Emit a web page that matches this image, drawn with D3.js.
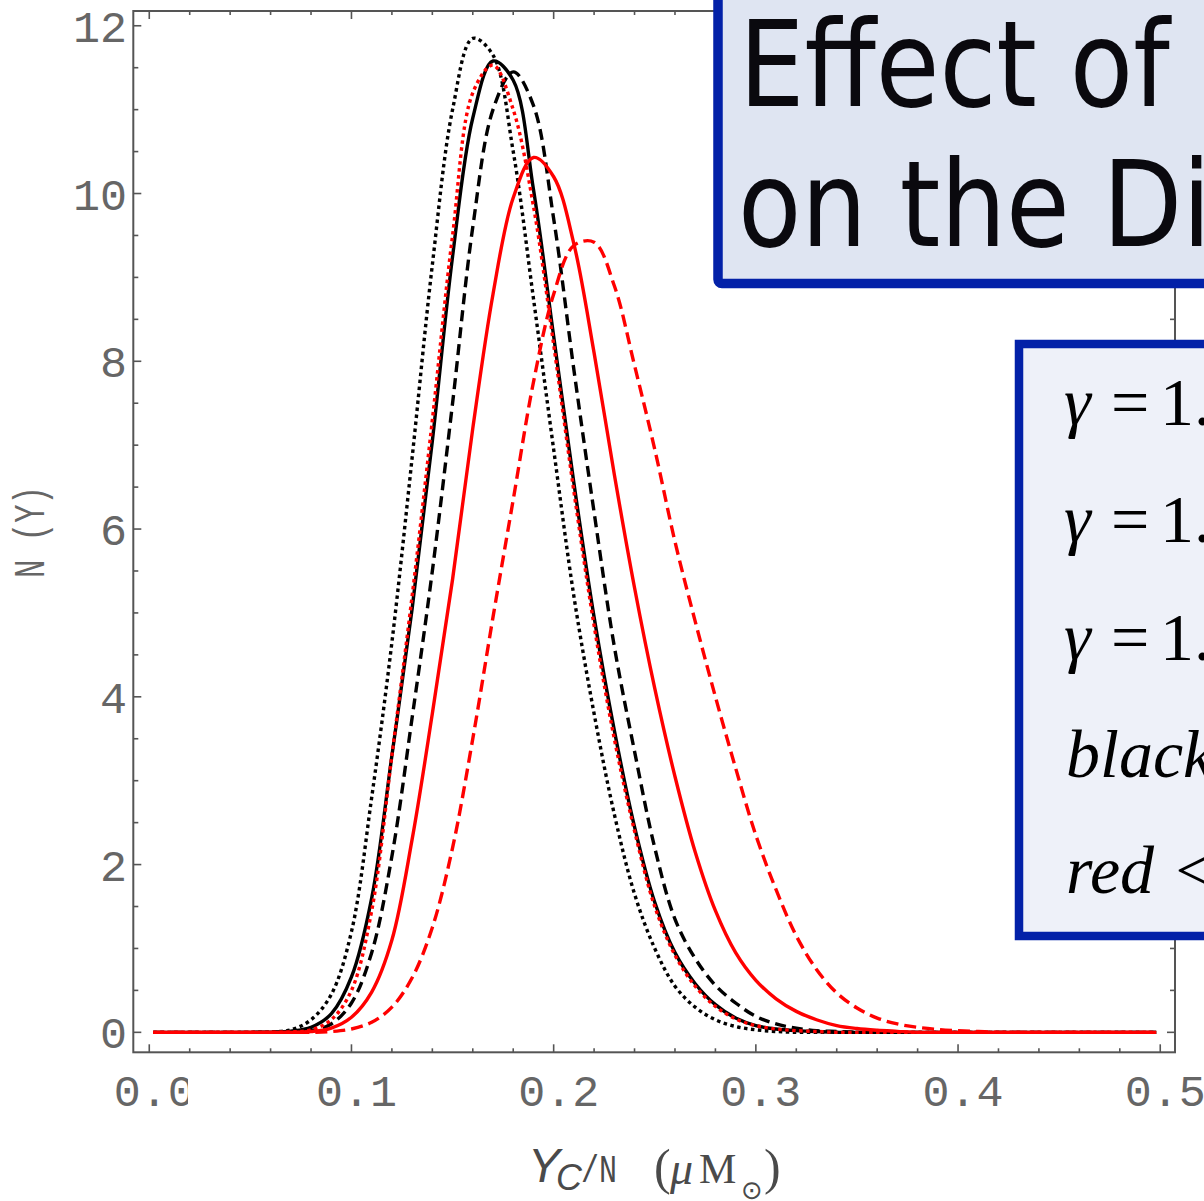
<!DOCTYPE html>
<html><head><meta charset="utf-8">
<script src="https://cdn.jsdelivr.net/npm/d3@7"></script>
<style>html,body{margin:0;padding:0;background:#fff;overflow:hidden}</style>
</head><body>
<script>
// ---------- data ----------
const xValues = [0.002,
  0.01,0.02,0.03,0.04,0.05,0.06,0.07,0.08,0.09,0.10,
  0.11,0.12,0.13,0.14,0.15,0.16,0.17,0.18,0.19,0.20,
  0.21,0.22,0.23,0.24,0.25,0.26,0.27,0.28,0.29,0.30,
  0.31,0.32,0.33,0.34,0.35,0.36,0.37,0.38,0.39,0.40,
  0.41,0.42,0.43,0.44,0.45,0.46,0.47,0.48,0.49,
  0.498];
const blackSolid = [0,
  0,0,0,0,0,0.003,0.015,0.06,0.22,0.66,
  1.6,3.3,5.05,7.05,9.25,10.9,11.58,11.35,10.05,8.3,
  6.55,4.95,3.6,2.45,1.55,0.95,0.58,0.33,0.17,0.08,
  0.04,0.02,0.01,0,0,0,0,0,0,0,
  0,0,0,0,0,0,0,0,0,
  0];
const blackDashed = [0,
  0,0,0,0,0,0,0.005,0.02,0.1,0.35,
  0.95,2.1,3.75,5.5,7.5,9.6,11.0,11.45,11.05,9.7,
  7.9,6.2,4.6,3.35,2.2,1.35,0.88,0.56,0.35,0.19,
  0.1,0.05,0.02,0.01,0,0,0,0,0,0,
  0,0,0,0,0,0,0,0,0,
  0];
const blackDotted = [0,
  0,0,0,0,0,0.005,0.03,0.15,0.45,1.2,
  2.8,4.65,6.85,9.15,11.0,11.85,11.65,10.5,8.75,6.95,
  5.2,3.8,2.6,1.65,1.0,0.55,0.3,0.15,0.07,0.03,
  0.01,0,0,0,0,0,0,0,0,0,
  0,0,0,0,0,0,0,0,0,
  0];
const redSolid = [0,
  0,0,0,0,0,0,0,0.01,0.05,0.18,
  0.48,1.1,2.3,3.8,5.4,7.2,8.8,9.95,10.43,10.2,
  9.4,8.1,6.65,5.3,4.1,3.05,2.15,1.45,0.95,0.62,
  0.4,0.25,0.15,0.08,0.045,0.025,0.012,0,0,0,
  0,0,0,0,0,0,0,0,0,
  0];
const redDashed = [0,
  0,0,0,0,0,0,0,0,0.01,0.04,
  0.12,0.3,0.65,1.25,2.2,3.5,4.95,6.35,7.75,8.8,
  9.38,9.42,8.9,7.95,6.95,5.85,4.9,4.0,3.15,2.35,
  1.7,1.15,0.75,0.47,0.29,0.17,0.1,0.06,0.035,0.02,
  0.01,0,0,0,0,0,0,0,0,
  0];
const redDotted = [0,
  0,0,0,0,0,0,0.005,0.03,0.15,0.5,
  1.45,3.3,5.2,7.3,9.5,11.2,11.53,11.0,9.85,8.2,
  6.45,4.85,3.5,2.4,1.5,0.92,0.55,0.31,0.16,0.08,
  0.04,0.02,0.01,0,0,0,0,0,0,0,
  0,0,0,0,0,0,0,0,0,
  0];

const xTickValues = [0, 0.1, 0.2, 0.3, 0.4, 0.5];
const xTickLabels = ["0.0", "0.1", "0.2", "0.3", "0.4", "0.5"];
const yTickValues = [0, 2, 4, 6, 8, 10, 12];
const yTickLabels = ["0", "2", "4", "6", "8", "10", "12"];
const titleLines = ["Effect of", "on the Distribution"];
const legendGammaValues = ["1.0", "1.3", "1.6"];
const legendNotes = ["black \u21D4 ", "red <= "];

// ---------- setup ----------
const W = 1204, H = 1201;
const svg = d3.select("body").append("svg").attr("width", W).attr("height", H)
  .style("display", "block");

const x = d3.scaleLinear().domain([-0.0079, 0.5073]).range([133.3, 1175]);
const y = d3.scaleLinear().domain([-0.238, 12.176]).range([1052.3, 11]);

const axisColor = "#555";
const labelColor = "#666";
const L = x.range()[0], R = x.range()[1], T = y.range()[1], B = y.range()[0];

// frame
svg.append("rect").attr("x", L).attr("y", T).attr("width", R - L).attr("height", B - T)
  .attr("stroke", axisColor).attr("stroke-width", 2).attr("fill", "none");

// ticks
const xMinor = d3.range(0, 0.5001, 0.02).filter(v => Math.abs(v * 10 - Math.round(v * 10)) > 1e-6);
const yMinor = d3.range(0, 12.001, 0.5).filter(v => Math.abs(v / 2 - Math.round(v / 2)) > 1e-6);
const tk = svg.append("g").attr("stroke", axisColor).attr("stroke-width", 1.6);
function xt(vals, len) {
  vals.forEach(v => {
    tk.append("line").attr("x1", x(v)).attr("x2", x(v)).attr("y1", B).attr("y2", B - len);
    tk.append("line").attr("x1", x(v)).attr("x2", x(v)).attr("y1", T).attr("y2", T + len);
  });
}
function yt(vals, len) {
  vals.forEach(v => {
    tk.append("line").attr("y1", y(v)).attr("y2", y(v)).attr("x1", L).attr("x2", L + len);
    tk.append("line").attr("y1", y(v)).attr("y2", y(v)).attr("x1", R).attr("x2", R - len);
  });
}
xt(xTickValues, 8); xt(xMinor, 4);
yt(yTickValues, 8); yt(yMinor, 5);

// clip for first x label (cut in the original)
const defs = svg.append("defs");
defs.append("clipPath").attr("id", "clip00").append("rect")
  .attr("x", 0).attr("y", 1000).attr("width", 188).attr("height", 200);

// tick labels
const tickFont = "'Liberation Mono','Courier New',monospace";
svg.append("g").selectAll("text").data(xTickValues).join("text")
  .attr("x", d => x(d) + 5).attr("y", 1106)
  .attr("text-anchor", "middle").attr("font-family", tickFont).attr("font-size", 45)
  .attr("fill", labelColor)
  .attr("clip-path", (d, i) => i === 0 ? "url(#clip00)" : null)
  .text((d, i) => xTickLabels[i]);
svg.append("g").selectAll("text").data(yTickValues).join("text")
  .attr("x", 127).attr("y", d => y(d) + 16)
  .attr("text-anchor", "end").attr("font-family", tickFont).attr("font-size", 45)
  .attr("fill", labelColor)
  .text((d, i) => yTickLabels[i]);

// axis labels
svg.append("text").attr("transform", "translate(44,532) rotate(-90)")
  .attr("text-anchor", "middle").attr("font-family", tickFont).attr("font-size", 44)
  .attr("textLength", 92).attr("lengthAdjust", "spacingAndGlyphs")
  .attr("fill", labelColor).text("N (Y)");

const serif = "'Liberation Serif','Times New Roman',serif";
const xl = svg.append("g").attr("fill", "#4a4a4a");
xl.append("text").attr("x", 528).attr("y", 1182).attr("font-family", "'Liberation Sans',Arial,sans-serif")
  .attr("font-style", "italic").attr("font-size", 48).text("Y");
xl.append("text").attr("x", 556).attr("y", 1190).attr("font-family", "'Liberation Sans',Arial,sans-serif")
  .attr("font-style", "italic").attr("font-size", 36).text("C");
xl.append("text").attr("x", 581).attr("y", 1182).attr("font-family", tickFont)
  .attr("font-size", 38).attr("textLength", 36).attr("lengthAdjust", "spacingAndGlyphs").text("/N");
xl.append("text").attr("x", 654).attr("y", 1184).attr("font-family", serif)
  .attr("font-size", 50).text("(");
xl.append("text").attr("x", 670).attr("y", 1184).attr("font-family", serif)
  .attr("font-style", "italic").attr("font-size", 46).text("\u03BC");
xl.append("text").attr("x", 699).attr("y", 1183).attr("font-family", serif)
  .attr("font-size", 42).text("M");
xl.append("text").attr("x", 741).attr("y", 1199).attr("font-family", "'DejaVu Sans',sans-serif")
  .attr("font-size", 26).text("\u2299");
xl.append("text").attr("x", 764).attr("y", 1184).attr("font-family", serif)
  .attr("font-size", 50).text(")");

// ---------- curves ----------
const series = [
  { values: blackSolid,  color: "#000000", dash: null },
  { values: blackDashed, color: "#000000", dash: "11,6" },
  { values: blackDotted, color: "#000000", dash: "3.5,3.5" },
  { values: redSolid,    color: "#ff0000", dash: null },
  { values: redDashed,   color: "#ff0000", dash: "12,6" },
  { values: redDotted,   color: "#ff0000", dash: "3.5,3.5" }
];
const line = d3.line().x((d, i) => x(xValues[i])).y(d => y(Math.max(0, d)))
  .curve(d3.curveCatmullRom.alpha(0.5));
svg.append("g").selectAll("path").data(series).join("path")
  .attr("d", d => line(d.values))
  .attr("fill", "none").attr("stroke", d => d.color).attr("stroke-width", 3.4)
  .attr("stroke-dasharray", d => d.dash);

// ---------- title box ----------
const blue = "#0321a8";
svg.append("rect").attr("x", 718).attr("y", -20).attr("width", 620).attr("height", 303.5)
  .attr("rx", 4).attr("fill", "#dfe5f2").attr("stroke", blue).attr("stroke-width", 9.5);
const titleFont = "'DejaVu Sans',Verdana,sans-serif";
svg.append("text").attr("transform", "translate(739,106) scale(0.87,1)")
  .attr("font-family", titleFont).attr("font-size", 119).attr("fill", "#0a090e").text(titleLines[0]);
svg.append("text").attr("transform", "translate(738,246) scale(0.87,1)")
  .attr("font-family", titleFont).attr("font-size", 119).attr("fill", "#0a090e").text(titleLines[1]);

// ---------- legend box ----------
svg.append("rect").attr("x", 1019).attr("y", 344).attr("width", 400).attr("height", 592)
  .attr("fill", "#eef1f9").attr("stroke", blue).attr("stroke-width", 8.5);
const legBase = [425, 542, 660, 777, 893];
legendGammaValues.forEach((g, i) => {
  const t = svg.append("g").attr("font-family", serif).attr("font-size", 68).attr("fill", "#000");
  t.append("text").attr("x", 1064).attr("y", legBase[i]).attr("font-style", "italic").text("\u03B3");
  t.append("text").attr("x", 1111).attr("y", legBase[i]).text("=");
  t.append("text").attr("x", 1160).attr("y", legBase[i]).text(g);
});
legendNotes.forEach((n, i) => {
  svg.append("text").attr("x", 1066).attr("y", legBase[3 + i])
    .attr("font-family", serif).attr("font-size", 68).attr("font-style", "italic")
    .attr("fill", "#000").text(n);
});
</script>
</body></html>
